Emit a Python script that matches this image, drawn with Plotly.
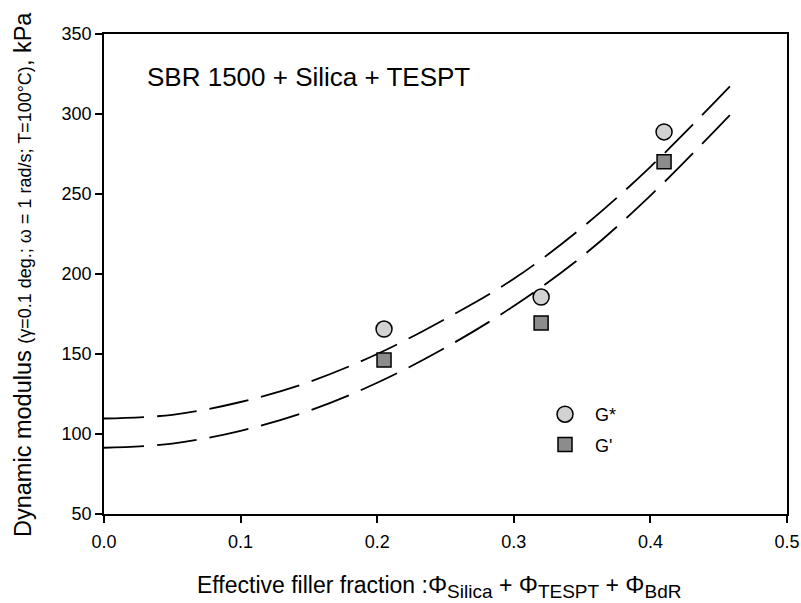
import plotly.graph_objects as go

# Measured data points
phi = [0.205, 0.320, 0.410]
g_star = [165.6, 185.6, 288.8]
g_prime = [146.2, 169.4, 270.2]

# Fitted curves
fit_phi = [0.0, 0.05, 0.10, 0.15, 0.20, 0.25, 0.30, 0.35, 0.40, 0.46]
fit_g_star = [109.7, 112.0, 120.0, 132.5, 150.0, 172.0, 197.0, 229.0, 267.0, 318.8]
fit_g_prime = [91.4, 94.0, 102.0, 114.5, 132.0, 154.0, 180.0, 211.0, 249.0, 301.0]

x_ticks = [0.0, 0.1, 0.2, 0.3, 0.4, 0.5]
x_tick_labels = ["0.0", "0.1", "0.2", "0.3", "0.4", "0.5"]
y_ticks = [50, 100, 150, 200, 250, 300, 350]

FONT = "Arial, 'Liberation Sans', sans-serif"

fig = go.Figure()

fig.add_trace(go.Scatter(
    x=fit_phi, y=fit_g_star, mode="lines", line_shape="spline",
    line=dict(color="black", width=1.8, dash="40px,13px"), showlegend=False, hoverinfo="skip"))
fig.add_trace(go.Scatter(
    x=fit_phi, y=fit_g_prime, mode="lines", line_shape="spline",
    line=dict(color="black", width=1.8, dash="40px,13px"), showlegend=False, hoverinfo="skip"))

fig.add_trace(go.Scatter(
    x=phi, y=g_star, mode="markers", name="\u00a0\u00a0G*", legendgroup="a",
    marker=dict(symbol="circle", size=16, color="#d2d2d2", line=dict(color="black", width=1.5))))
fig.add_trace(go.Scatter(
    x=phi, y=g_prime, mode="markers", name="\u00a0\u00a0G'", legendgroup="b",
    marker=dict(symbol="square", size=14, color="#8c8c8c", line=dict(color="black", width=1.5))))

axis_common = dict(
    showline=True, linecolor="black", linewidth=1.5, mirror=True,
    ticks="outside", ticklen=7, tickwidth=1.5, tickcolor="black",
    showgrid=False, zeroline=False, automargin=False,
    tickfont=dict(family=FONT, size=18, color="black"),
)

fig.update_xaxes(range=[0, 0.5], tickvals=x_ticks, ticktext=x_tick_labels,
                 ticklabelstandoff=4, **axis_common)
fig.update_yaxes(range=[50, 350], tickvals=y_ticks, ticksuffix="\u00a0\u2009", **axis_common)

fig.add_annotation(
    text="SBR 1500 + Silica + TESPT", xref="paper", yref="paper",
    x=0.060, y=0.9104, xanchor="left", yanchor="middle", showarrow=False,
    font=dict(family=FONT, size=26, color="black"))

fig.add_annotation(
    text="Dynamic modulus <span style='font-size:18px'>(\u03b3=0.1 deg.; \u03c9 = 1 rad/s; T=100\u00b0C)</span>, kPa",
    xref="paper", yref="paper", x=-0.1186, y=0.5, xanchor="center", yanchor="middle",
    textangle=-90, showarrow=False, font=dict(family=FONT, size=23.5, color="black"))

fig.add_annotation(
    text=("Effective filler fraction :<span style='font-size:24px'>\u03a6</span><sub><span style='font-size:19px'>Silica</span></sub>"
          " + <span style='font-size:24px'>\u03a6</span><sub><span style='font-size:19px'>TESPT</span></sub>"
          " + <span style='font-size:24px'>\u03a6</span><sub><span style='font-size:19px'>BdR</span></sub>"),
    xref="paper", yref="paper", x=0.49, y=-0.152, xanchor="center", yanchor="middle",
    showarrow=False, font=dict(family=FONT, size=23, color="black"))

fig.update_layout(
    autosize=False,
    width=801, height=603,
    margin=dict(l=104, r=14, t=34, b=89, autoexpand=False),
    paper_bgcolor="white", plot_bgcolor="white",
    showlegend=True,
    legend=dict(x=0.6457, y=0.2458, xanchor="left", yanchor="top",
                bgcolor="rgba(0,0,0,0)", borderwidth=0,
                traceorder="grouped", tracegroupgap=4,
                font=dict(family=FONT, size=18, color="black")),
)

# Remove the page's default body margin so the fixed-size figure fills the window exactly.
fig.write_html(
    "out.html",
    config={"responsive": False, "displayModeBar": False},
    post_script="document.body.style.margin='0';document.body.style.overflow='hidden';",
)
